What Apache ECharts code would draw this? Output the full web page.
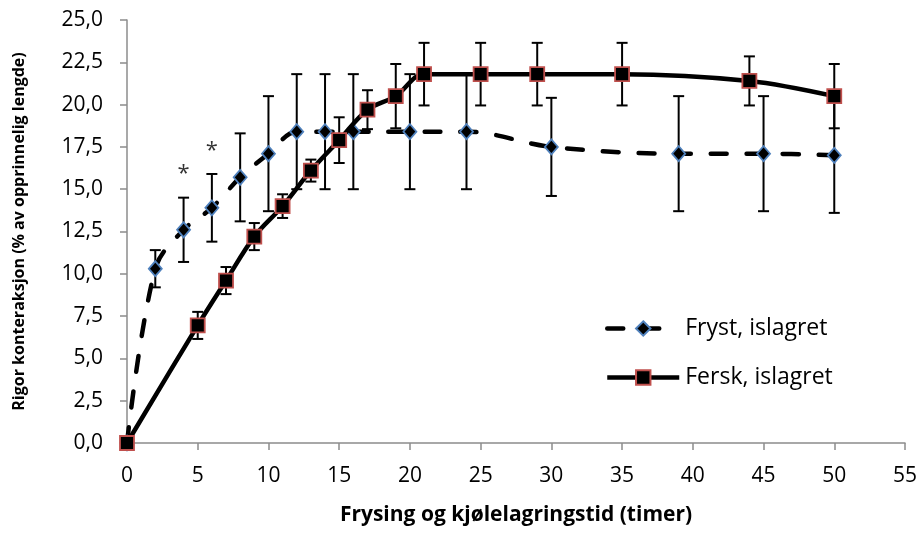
<!DOCTYPE html>
<html>
<head>
<meta charset="utf-8">
<script src="https://cdn.jsdelivr.net/npm/echarts@6/dist/echarts.min.js"></script>
<style>
  html, body { margin: 0; padding: 0; background: #fff; }
  #chart { width: 920px; height: 533px; }
</style>
</head>
<body>
<div id="chart"></div>
<script>
// Rigor contraction over freezing + chilled storage time
const seriesNames = ['Fryst, islagret', 'Fersk, islagret'];

// Frozen, ice-stored
const hoursFryst = [0, 2, 4, 6, 8, 10, 12, 14, 16, 20, 24, 30, 39, 45, 50];
const valuesFryst = [0, 10.3, 12.6, 13.9, 15.7, 17.1, 18.4, 18.4, 18.4, 18.4, 18.4, 17.5, 17.1, 17.1, 17.0];
const errorsFryst = [0, 1.1, 1.9, 2.0, 2.6, 3.4, 3.4, 3.4, 3.4, 3.4, 3.4, 2.9, 3.4, 3.4, 3.4];

// Fresh, ice-stored
const hoursFersk = [0, 5, 7, 9, 11, 13, 15, 17, 19, 21, 25, 29, 35, 44, 50];
const valuesFersk = [0, 6.95, 9.6, 12.2, 14.0, 16.1, 17.9, 19.7, 20.5, 21.8, 21.8, 21.8, 21.8, 21.4, 20.5];
const errorsFersk = [0, 0.8, 0.8, 0.8, 0.7, 0.65, 1.35, 1.15, 1.9, 1.85, 1.85, 1.85, 1.85, 1.45, 1.9];

// Significance markers (hours, contraction level)
const asterisks = [[4, 15.9], [6, 17.3]];

// Axis ranges and tick steps
const xAxisRange = { min: 0, max: 55, interval: 5 };
const yAxisRange = { min: 0, max: 25, interval: 2.5 };

const FONT = '"Open Sans"';
const LINE_WIDTH = 4.5;
const DASH = [16, 20];

function pairs(xs, ys) { return xs.map((x, i) => [x, ys[i]]); }
function triples(xs, ys, es) { return xs.map((x, i) => [x, ys[i], es[i]]); }

function renderErrorBar(params, api) {
  const x = api.value(0), y = api.value(1), e = api.value(2);
  if (!e) return null;
  const hi = api.coord([x, y + e]);
  const lo = api.coord([x, y - e]);
  const half = 5.5;
  const style = { stroke: '#000', lineWidth: 2 };
  return {
    type: 'group',
    children: [
      { type: 'line', shape: { x1: hi[0], y1: hi[1], x2: lo[0], y2: lo[1] }, style },
      { type: 'line', shape: { x1: hi[0] - half, y1: hi[1], x2: hi[0] + half, y2: hi[1] }, style },
      { type: 'line', shape: { x1: lo[0] - half, y1: lo[1], x2: lo[0] + half, y2: lo[1] }, style }
    ]
  };
}

const chart = echarts.init(document.getElementById('chart'), null, { renderer: 'canvas' });

chart.setOption({
  animation: false,
  backgroundColor: '#fff',
  textStyle: { fontFamily: FONT },
  grid: { left: 127, right: 11, top: 20, bottom: 90, containLabel: false },
  legend: {
    data: [
      { name: seriesNames[0], lineStyle: { width: LINE_WIDTH, type: DASH, cap: 'round', color: '#000' } },
      { name: seriesNames[1], lineStyle: { width: LINE_WIDTH, color: '#000' } }
    ],
    orient: 'vertical',
    left: 605,
    top: 317,
    itemWidth: 72,
    itemHeight: 18,
    itemGap: 26,
    padding: 0,
    textStyle: { fontFamily: FONT, fontSize: 23, color: '#000', padding: [0, 0, 0, 1] }
  },
  xAxis: {
    type: 'value',
    min: xAxisRange.min,
    max: xAxisRange.max,
    interval: xAxisRange.interval,
    name: 'Frysing og kjølelagringstid (timer)',
    nameLocation: 'middle',
    nameGap: 62,
    nameTextStyle: { fontFamily: FONT, fontSize: 21, fontWeight: 'bold', color: '#000' },
    splitLine: { show: false },
    axisLine: { show: true, onZero: false, lineStyle: { color: '#8c8c8c', width: 1.5 } },
    axisTick: { show: true, inside: false, length: 7, lineStyle: { color: '#8c8c8c', width: 1.5 } },
    axisLabel: { fontFamily: FONT, fontSize: 21, color: '#000', margin: 23 }
  },
  yAxis: {
    type: 'value',
    min: yAxisRange.min,
    max: yAxisRange.max,
    interval: yAxisRange.interval,
    name: 'Rigor konteraksjon (% av opprinnelig lengde)',
    nameLocation: 'middle',
    nameGap: 100,
    nameRotate: 90,
    nameTextStyle: { fontFamily: FONT, fontSize: 16, fontWeight: 'bold', color: '#000' },
    splitLine: { show: false },
    axisLine: { show: true, lineStyle: { color: '#8c8c8c', width: 1.5 } },
    axisTick: { show: true, inside: false, length: 7, lineStyle: { color: '#8c8c8c', width: 1.5 } },
    axisLabel: {
      fontFamily: FONT, fontSize: 21, color: '#000', margin: 24,
      formatter: v => v.toFixed(1).replace('.', ',')
    }
  },
  series: [
    {
      name: 'errFryst',
      type: 'custom',
      renderItem: renderErrorBar,
      encode: { x: 0, y: 1 },
      data: triples(hoursFryst, valuesFryst, errorsFryst),
      z: 1,
      silent: true
    },
    {
      name: 'errFersk',
      type: 'custom',
      renderItem: renderErrorBar,
      encode: { x: 0, y: 1 },
      data: triples(hoursFersk, valuesFersk, errorsFersk),
      z: 1,
      silent: true
    },
    {
      name: seriesNames[0],
      type: 'line',
      data: pairs(hoursFryst, valuesFryst),
      smooth: 0.35,
      showAllSymbol: true,
      symbol: 'diamond',
      symbolSize: [13, 15],
      lineStyle: { color: '#000', width: LINE_WIDTH, type: DASH, cap: 'round' },
      itemStyle: { color: '#000', borderColor: '#4F81BD', borderWidth: 1.8 },
      z: 3
    },
    {
      name: seriesNames[1],
      type: 'line',
      data: pairs(hoursFersk, valuesFersk),
      smooth: 0.35,
      showAllSymbol: true,
      symbol: 'rect',
      symbolSize: 14,
      lineStyle: { color: '#000', width: LINE_WIDTH },
      itemStyle: { color: '#000', borderColor: '#C0504D', borderWidth: 1.8 },
      z: 4
    },
    {
      name: 'asterisks',
      type: 'scatter',
      data: asterisks,
      symbol: 'circle',
      symbolSize: 1,
      itemStyle: { color: 'rgba(0,0,0,0)' },
      silent: true,
      label: {
        show: true,
        position: 'inside',
        formatter: '*',
        fontFamily: FONT,
        fontSize: 22,
        color: '#000'
      },
      z: 5
    }
  ]
});
</script>
</body>
</html>
